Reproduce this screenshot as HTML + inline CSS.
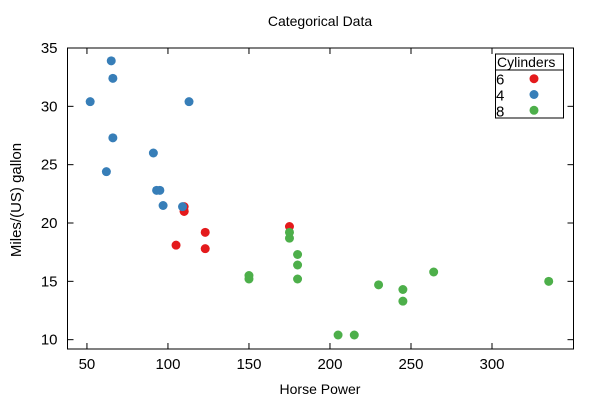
<!DOCTYPE html>
<html><head><meta charset="utf-8"><style>
body{margin:0;background:#fff}
svg text{font-family:"Liberation Sans",sans-serif;fill:#000}
</style></head><body>
<svg id="c" width="600" height="400" xmlns="http://www.w3.org/2000/svg">
<text x="320" y="26" font-size="14" text-anchor="middle">Categorical Data</text>
<text x="320" y="394" font-size="14" text-anchor="middle">Horse Power</text>
<text transform="translate(21,200) rotate(-90)" font-size="15" text-anchor="middle">Miles/(US) gallon</text>
<g id="axes"></g><g id="pts"></g>
<g>
<rect x="495.5" y="54" width="68" height="64" fill="#fff" stroke="#000" stroke-width="1"/>
<line x1="495.5" y1="70" x2="563.5" y2="70" stroke="#000"/>
<text x="497" y="67" font-size="14">Cylinders</text>
<g id="leg"></g>
</g>
</svg>
<script>
const hp4=[93,62,95,66,52,65,97,66,91,113,109];
const mpg4=[22.8,24.4,22.8,32.4,30.4,33.9,21.5,27.3,26.0,30.4,21.4];
const hp6=[110,110,110,105,123,123,175];
const mpg6=[21.0,21.0,21.4,18.1,19.2,17.8,19.7];
const hp8=[175,245,180,180,180,205,215,230,150,150,245,175,264,335];
const mpg8=[18.7,14.3,16.4,17.3,15.2,10.4,10.4,14.7,15.5,15.2,13.3,19.2,15.8,15.0];
const xTicks=[50,100,150,200,250,300];
const yTicks=[10,15,20,25,30,35];
const X0=67.5,X1=573.5,Y0=349,Y1=48,xmin=38,xmax=350.3,ymin=9.2,ymax=35;
const sx=v=>X0+(v-xmin)/(xmax-xmin)*(X1-X0);
const sy=v=>Y0-(v-ymin)/(ymax-ymin)*(Y0-Y1);
const NS="http://www.w3.org/2000/svg";
function mk(t,a,p){const e=document.createElementNS(NS,t);for(const k in a)e.setAttribute(k,a[k]);p.appendChild(e);return e;}
const ax=document.getElementById('axes');
const fr=mk('rect',{x:X0,y:Y1,width:X1-X0,height:Y0-Y1,fill:'none',stroke:'#000','stroke-width':1},ax);


xTicks.forEach(v=>{const x=sx(v);
mk('line',{x1:x,y1:Y0,x2:x,y2:Y0-6,stroke:'#000'},ax);
mk('line',{x1:x,y1:Y1,x2:x,y2:Y1+6,stroke:'#000'},ax);
const t=mk('text',{x:x,y:Y0+20,'font-size':15,'text-anchor':'middle'},ax);t.textContent=v;

});
yTicks.forEach(v=>{const y=sy(v);
mk('line',{x1:X0,y1:y,x2:X0+6,y2:y,stroke:'#000'},ax);
mk('line',{x1:X1,y1:y,x2:X1-6,y2:y,stroke:'#000'},ax);
const t=mk('text',{x:X0-10,y:y+5,'font-size':15,'text-anchor':'end'},ax);t.textContent=v;

});
const pts=document.getElementById('pts');
const series=[[hp6,mpg6,'#e41a1c','6'],[hp4,mpg4,'#377eb8','4'],[hp8,mpg8,'#4daf4a','8']];
series.forEach(([h,m,c,n])=>{h.forEach((v,i)=>{const p=mk('circle',{cx:sx(v),cy:sy(m[i]),r:4.5,fill:c},pts);

});});
const leg=document.getElementById('leg');
series.forEach(([h,m,c,n],i)=>{const y=78.7+i*15.8;
const t=mk('text',{x:496,y:y+6,'font-size':15},leg);t.textContent=n;


const p=mk('circle',{cx:534,cy:y,r:4.5,fill:c},leg);

});
</script>
</body></html>
